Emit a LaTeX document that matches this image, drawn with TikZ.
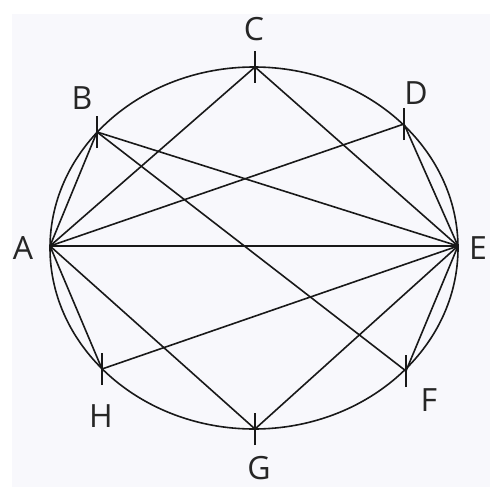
\documentclass[tikz,border=0pt]{standalone}
\usepackage{fontspec}
\setmainfont{Open Sans}
\begin{document}
\begin{tikzpicture}[x=1pt,y=-1pt,
  edge/.style={line width=1.6pt,black!90},
  tick/.style={line width=1.6pt,black!90},
  lab/.style={font=\fontsize{32}{32}\selectfont,text=black!85,inner sep=0pt}]
\useasboundingbox (0,0) rectangle (490,487);
\fill[white] (0,0) rectangle (490,487);
\fill[fill={rgb,255:red,248;green,248;blue,252}] (12,14) rectangle (490,487);
% points
\coordinate (A) at (50,246);
\coordinate (B) at (97,132);
\coordinate (C) at (255,67);
\coordinate (D) at (404,124);
\coordinate (E) at (458,246);
\coordinate (F) at (406,371);
\coordinate (G) at (255,429);
\coordinate (H) at (102,369);
\coordinate (O) at (254,248);
% ellipse
\draw[edge] (O) ellipse [x radius=204, y radius=181];
% chords
\draw[edge] (A) -- (B);
\draw[edge] (A) -- (C);
\draw[edge] (A) -- (D);
\draw[edge] (A) -- (E);
\draw[edge] (A) -- (G);
\draw[edge] (A) -- (H);
\draw[edge] (B) -- (E);
\draw[edge] (B) -- (F);
\draw[edge] (C) -- (E);
\draw[edge] (D) -- (E);
\draw[edge] (H) -- (E);
\draw[edge] (G) -- (E);
\draw[edge] (F) -- (E);
% ticks
\foreach \p in {B,C,D,F,G,H}{
  \draw[tick] ([yshift=-16]\p) -- ([yshift=16]\p);
}
% labels
\node[lab] (lA) at (23,248) {A};
\node[lab] (lB) at (82,98) {B};
\node[lab] (lC) at (254,29) {C};
\node[lab] (lD) at (416,93) {D};
\node[lab,anchor=west] (lE) at (469,248) {E};
\node[lab] (lF) at (429,400) {F};
\node[lab] (lG) at (259,468) {G};
\node[lab] (lH) at (101,416) {H};
\end{tikzpicture}
\end{document}
